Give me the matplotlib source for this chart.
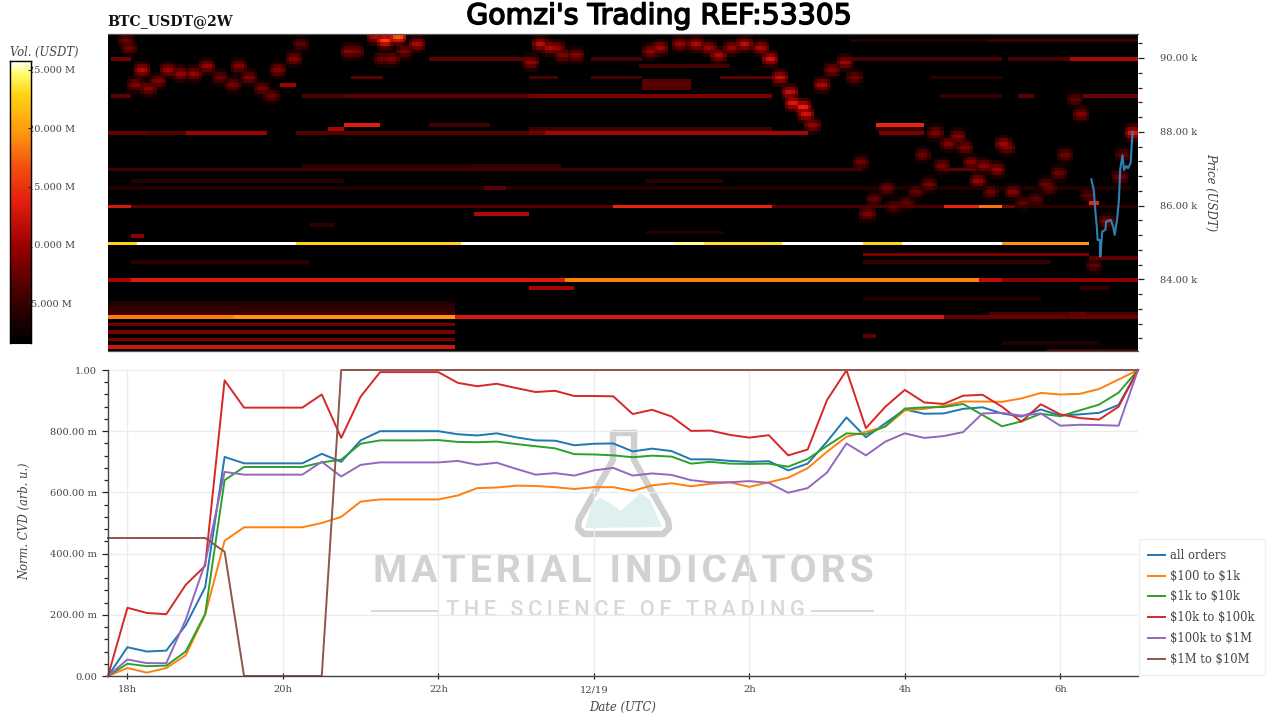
import numpy as np
import matplotlib
matplotlib.use("Agg")
import matplotlib.pyplot as plt
from matplotlib.colors import LinearSegmentedColormap
from matplotlib.lines import Line2D
from matplotlib.patches import Polygon
from matplotlib.ticker import FixedLocator, NullLocator
import matplotlib.patheffects as pe

plt.rcParams["text.parse_math"] = False

# ---------- CVD data (15 minute samples, hours since 12/18 0h) ----------
CVD_START = 17.75
CVD_STEP = 0.25
ALL_ORDERS = [0, .094, .08, .083, .166, .29, .716, .695, .695, .695, .695, .726, .70, .77, .80, .80, .80,
              .80, .79, .786, .793, .78, .77, .769, .754, .759, .76, .734, .743, .735, .708, .708, .703, .70, .702,
              .672, .694, .766, .845, .78, .826, .871, .857, .858, .873, .878, .858, .848, .871, .851, .855, .86, .886, 1.0]
USD_100_1K = [0, .026, .011, .026, .068, .20, .442, .486, .486, .486, .486, .50, .52, .57, .577, .577, .577,
              .577, .59, .614, .616, .622, .621, .617, .611, .617, .617, .605, .623, .63, .62, .628, .633, .618, .633,
              .648, .679, .733, .782, .798, .815, .868, .873, .883, .897, .897, .896, .907, .925, .92, .922, .938, .969, 1.0]
USD_1K_10K = [0, .04, .032, .034, .08, .203, .64, .683, .683, .683, .683, .698, .707, .759, .77, .77, .77,
              .771, .765, .764, .766, .758, .751, .744, .725, .724, .721, .715, .72, .717, .694, .70, .694, .693, .694,
              .684, .709, .752, .793, .79, .816, .874, .878, .879, .889, .853, .816, .832, .857, .849, .868, .887, .926, 1.0]
USD_10K_100K = [0, .223, .206, .202, .298, .36, .966, .877, .877, .877, .877, .92, .778, .913, .993, .993, .993,
                .993, .958, .947, .955, .941, .928, .932, .915, .915, .914, .856, .87, .848, .801, .802, .788, .779, .787,
                .721, .74, .902, .999, .81, .88, .935, .894, .889, .916, .919, .88, .831, .888, .855, .843, .838, .88, 1.0]
USD_100K_1M = [0, .054, .042, .042, .184, .369, .667, .658, .658, .658, .658, .70, .652, .69, .698, .698, .698,
               .698, .703, .69, .697, .677, .658, .663, .655, .672, .68, .655, .662, .657, .64, .633, .633, .637, .631,
               .599, .614, .665, .76, .721, .766, .793, .778, .784, .797, .858, .86, .851, .858, .818, .821, .82, .818, 1.0]
USD_1M_10M = [.451, .451, .451, .451, .451, .451, .406, 0, 0, 0, 0, 0] + [1.0] * 42

SERIES_NAMES = ["all orders", "$100 to $1k", "$1k to $10k", "$10k to $100k", "$100k to $1M", "$1M to $10M"]
SERIES_COLORS = ["#1f77b4", "#ff7f0e", "#2ca02c", "#d62728", "#9467bd", "#8c564b"]

# ---------- Tick labels ----------
X_TICKS = [18, 20, 22, 24, 26, 28, 30]
X_LABELS = ["18h", "20h", "22h", "12/19", "2h", "4h", "6h"]
CVD_TICKS = [0, .2, .4, .6, .8, 1.0]
CVD_LABELS = ["0.00", "200.00 m", "400.00 m", "600.00 m", "800.00 m", "1.00"]
PRICE_TICKS = [84000, 86000, 88000, 90000]
PRICE_LABELS = ["84.00 k", "86.00 k", "88.00 k", "90.00 k"]
VOL_TICKS = [5, 10, 15, 20, 25]
VOL_LABELS = ["5.000 M", "10.000 M", "15.000 M", "20.000 M", "25.000 M"]

# ---------- Price line ----------
PRICE_HOURS = [30.40, 30.43, 30.45, 30.47, 30.48, 30.51, 30.515, 30.54, 30.58, 30.59, 30.65, 30.68, 30.70,
               30.73, 30.755, 30.77, 30.80, 30.82, 30.85, 30.87, 30.905, 30.93]
PRICE_USD = [86714, 86425, 85883, 85432, 85070, 85070, 84619, 85296, 85341, 85567, 85612, 85432, 85206,
             85612, 86154, 86967, 87356, 86967, 87076, 87012, 87148, 88006]

# ---------- Order book walls: (start hour, end hour, volume in M) ----------
WALLS_85000 = [(17.75, 18.13, 23), (18.13, 20.17, 27), (20.17, 22.28, 23), (22.28, 25.04, 27), (25.04, 25.43, 25),
               (25.43, 26.43, 23.5), (26.43, 27.47, 27), (27.47, 27.94, 23), (27.94, 29.26, 27), (29.26, 30.38, 19.5)]
WALLS_84000 = [(17.75, 18.06, 10.5), (18.06, 23.62, 13.2), (23.62, 28.96, 18.7), (28.96, 29.26, 11.5),
               (29.26, 29.74, 9), (29.74, 31, 9.5)]
WALLS_83000 = [(17.75, 19.39, 18.5), (19.39, 22.22, 19.5), (22.22, 28.49, 13), (28.49, 29.35, 7.5), (29.35, 31, 7.5)]
WALLS_86000 = [(17.75, 18.06, 13), (18.06, 24.25, 6.5), (24.25, 26.29, 14), (26.29, 28.49, 6.2), (28.49, 28.96, 14),
               (28.96, 29.26, 18), (29.26, 29.43, 8), (29.43, 31, 4.5)]
WALLS_88000 = [(17.75, 18.23, 7.5), (18.23, 18.76, 6.5), (18.76, 19.79, 10), (20.17, 21.89, 6.5), (21.89, 23.15, 6.5),
               (23.15, 23.37, 8), (23.37, 26.75, 10.5), (27.68, 28.24, 8.5)]
WALLS_90000 = [(17.78, 18.05, 8), (21.89, 23.15, 7), (23.95, 24.63, 6), (27.29, 29.26, 6), (29.35, 30.12, 6),
               (30.12, 31, 11)]
WALLS_89000 = [(17.78, 18.04, 7), (20.26, 20.80, 6), (20.80, 21.89, 7), (21.89, 23.15, 7), (23.15, 26.30, 8.5),
               (28.45, 29.26, 5), (29.44, 29.65, 7), (30.29, 30.98, 8)]
LEFT_BLOCK_PRICES = [82800, 82600, 82400, 82200, 83100, 83200, 83300, 83400]
LEFT_BLOCK_VOLS = [8, 8.5, 8.5, 12.5, 5.5, 5, 4.2, 3.5]
LEFT_BLOCK_END = 22.22

# Single short or faint levels
SHORT_PRICES = [88200, 88100, 85800, 83800, 86100, 85200, 84700, 84500, 84600, 89300, 89500, 89500, 89500, 89500,
                89800, 89400, 89300, 89200, 87100, 87100, 87000, 86700, 86700, 86500, 86500, 88100, 88200, 88100,
                90500, 90500, 84500, 83100, 83100, 82500, 82100, 85300, 85500, 87000, 88200, 89500, 83500, 82300, 83800]
SHORT_START = [20.80, 20.58, 22.45, 23.15, 30.38, 18.06, 27.47, 27.47, 30.38, 19.94, 20.89, 23.15, 23.95, 25.62,
               24.57, 24.63, 24.63, 24.63, 20.26, 22.45, 17.75, 18.06, 24.66, 17.75, 22.60, 27.61, 21.89, 23.15,
               29.09, 27.29, 18.06, 29.09, 30.12, 27.47, 29.84, 24.66, 20.35, 28.51, 27.61, 28.32, 27.47, 29.26, 30.27]
SHORT_END = [21.26, 20.80, 23.15, 23.77, 30.51, 18.21, 30.38, 29.86, 31, 20.17, 21.28, 23.54, 24.63, 26.30,
             25.75, 25.26, 25.26, 25.26, 22.45, 23.57, 27.47, 20.80, 25.66, 30.9, 22.86, 28.24, 22.67, 26.30,
             31, 29.09, 20.35, 31, 30.35, 27.61, 31, 25.66, 20.67, 28.90, 28.24, 29.26, 29.74, 30.51, 30.63]
SHORT_VOLS = [13.5, 10.5, 11, 10.5, 14, 9.5, 8.5, 5, 7, 10, 7, 6, 6, 7,
              5.5, 6.5, 7, 6.5, 4.5, 5, 5.5, 4, 4.5, 3.8, 7, 5, 5.5, 5.5,
              5.5, 4, 4.5, 6, 7.5, 7, 6, 4, 4.5, 7, 14, 4.5, 3.8, 3.5, 5]

# ---------- Price-trace clusters of resting orders ----------
TRACE_HOURS = [17.94, 18.01, 18.17, 18.10, 18.26, 18.36, 18.51, 18.68, 18.84, 18.98, 19.16, 19.32, 19.43, 19.54,
               19.71, 19.84, 19.90, 20.13, 20.20, 20.83, 20.93, 21.16, 21.23, 21.29, 21.38, 21.47, 21.55, 21.70,
               23.18, 23.28, 23.40, 23.50, 23.59, 23.73, 24.70, 24.85, 25.07, 25.30, 25.46, 25.60, 25.75, 25.92,
               26.14, 26.25, 26.39, 26.48, 26.56, 26.65, 26.71, 26.80, 26.92, 27.04, 27.19, 27.34, 27.42, 27.50,
               27.59, 27.74, 27.85, 28.00, 28.13, 28.21, 28.28, 28.36, 28.44, 28.54, 28.67, 28.76, 28.84, 28.91,
               29.00, 29.07, 29.16, 29.25, 29.31, 29.39, 29.52, 29.67, 29.79, 29.85, 29.94, 30.06, 30.17, 30.25,
               30.34, 30.42, 30.57, 30.73, 30.80, 30.92]
TRACE_PRICES = [90500, 90300, 89700, 89300, 89200, 89400, 89700, 89600, 89600, 89800, 89500, 89300, 89800, 89500,
                89200, 89000, 89700, 90000, 90400, 90200, 90200, 90600, 90000, 90500, 90000, 90600, 90200, 90400,
                89900, 90400, 90300, 90300, 90100, 90100, 90200, 90300, 90400, 90400, 90300, 90100, 90300, 90400,
                90300, 90000, 89500, 89100, 88800, 88700, 88500, 88200, 89300, 89700, 89900, 89500, 87200, 85800,
                86200, 86500, 86000, 86100, 86400, 87400, 86600, 88000, 87100, 87700, 87900, 87600, 87200, 86700,
                87100, 86400, 87000, 87700, 87600, 86400, 86100, 86200, 86600, 86500, 86900, 87400, 88900, 88500,
                86300, 84400, 85600, 86800, 87400, 88000]
TRACE_VOLS = [8, 8, 11, 9, 9.5, 9, 10, 10, 10, 10, 8, 8.5, 9, 9, 8.5, 8, 9, 9, 7,
              9.5, 8.5, 11, 8, 16, 9, 17, 9, 11,
              10, 11.5, 11, 10, 9, 9, 10, 10.5, 10, 11, 10, 11, 10, 11.5,
              11, 12.5, 12, 12, 13, 14, 12.5, 10, 11, 9, 10.5, 8.5, 8, 9,
              7.5, 8, 7.5, 7.5, 7.5, 8, 8.5, 9, 8.5, 9, 9.5, 9, 9, 10,
              9.5, 8, 10, 10.5, 9, 9, 7, 7, 8, 7.5, 8, 8, 7.5, 9,
              7, 7.5, 9, 8, 7.5, 13]

# ---------- Build the heat grid ----------
COLS_PER_HOUR = 24
H_EDGES = np.arange(17.75, 31.0 + 1e-6, 1 / COLS_PER_HOUR)
P_EDGES = np.arange(82025, 90651, 100)
heat = np.zeros((len(P_EDGES) - 1, len(H_EDGES) - 1))


def col_of(h):
    return int(np.clip(np.round((h - H_EDGES[0]) * COLS_PER_HOUR), 0, heat.shape[1]))


def row_of(p):
    return int(np.clip(np.floor((p - P_EDGES[0]) / 100), 0, heat.shape[0] - 1))


def add_wall(price, start, end, vol):
    r = row_of(price)
    c0, c1 = col_of(start), max(col_of(end), col_of(start) + 1)
    heat[r, c0:c1] = np.maximum(heat[r, c0:c1], vol)


for price, segments in [(85000, WALLS_85000), (84000, WALLS_84000), (83000, WALLS_83000), (86000, WALLS_86000),
                        (88000, WALLS_88000), (90000, WALLS_90000), (89000, WALLS_89000)]:
    for s, e, v in segments:
        add_wall(price, s, e, v)
for p, v in zip(LEFT_BLOCK_PRICES, LEFT_BLOCK_VOLS):
    add_wall(p, 17.75, LEFT_BLOCK_END, v)
for p, s, e, v in zip(SHORT_PRICES, SHORT_START, SHORT_END, SHORT_VOLS):
    add_wall(p, s, e, v)
add_wall(87000, 28.51, 28.90, 7)
ROW_FALLOFF = [(0, 1.0), (1, .72), (-1, .72), (2, .38), (-2, .38)]
COL_FALLOFF = [(0, 1.0), (1, .95), (-1, .95), (2, .7), (-2, .7)]
for h, p, v in zip(TRACE_HOURS, TRACE_PRICES, TRACE_VOLS):
    r, c = row_of(p), min(col_of(h), heat.shape[1] - 1)
    for dr, fr in ROW_FALLOFF:
        for dc, fc in COL_FALLOFF:
            rr, cc = r + dr, c + dc
            if 0 <= rr < heat.shape[0] and 0 <= cc < heat.shape[1] and rr != row_of(85000):
                heat[rr, cc] = max(heat[rr, cc], v * fr * fc)

# ---------- Style ----------
GREY = "#444444"
plt.rcParams["font.family"] = ["DejaVu Serif"]
W, H = 1280, 720
HEAT_CMAP = LinearSegmentedColormap.from_list("book", [
    (0, "#000000"), (.092, "#220000"), (.21, "#550000"), (.34, "#990000"), (.506, "#e52010"), (.624, "#f25010"),
    (.742, "#ff9510"), (.884, "#ffd512"), (.96, "#ffff70"), (1, "#ffffff")])
VMIN, VMAX = 1.57, 25.77


def box(x0, y0, x1, y1):
    return [x0 / W, 1 - y1 / H, (x1 - x0) / W, (y1 - y0) / H]


def fx(x):
    return x / W


def fy(y):
    return 1 - y / H


fig = plt.figure(figsize=(12.8, 7.2), dpi=100, facecolor="white")

# ---------- Watermark ----------
flask_outline = [(634, 433), (613, 433), (613, 460), (579, 520), (578, 528), (584, 534), (663, 534), (669, 528),
                 (668, 520), (634, 460), (634, 433)]
flask_fill = [(585, 528), (592, 503), (600, 498), (608, 502), (621, 511), (633, 500), (640, 493), (650, 500),
              (662, 527)]
fig.add_artist(Polygon([(fx(x), fy(y)) for x, y in flask_fill], closed=True, transform=fig.transFigure,
                       facecolor="#dff0f0", edgecolor="none", zorder=-2))
fig.add_artist(Line2D([fx(x) for x, y in flask_outline], [fy(y) for x, y in flask_outline],
                      transform=fig.transFigure, color="#cfcfcf", lw=4.6, solid_joinstyle="round", zorder=-2))
wm = dict(transform=fig.transFigure, ha="center", va="center", zorder=-2, family="Roboto")
fig.text(fx(623), fy(571.5), "\u200a".join("MATERIAL INDICATORS"), color="#d2d2d2", fontsize=28.2, fontweight="bold", **wm)
fig.text(fx(625), fy(611), "\u2009".join("THE SCIENCE OF TRADING"), color="#d8d8d8", fontsize=15.7,
         fontweight="medium", **wm)
for xa, xb in [(372, 438), (812, 873)]:
    fig.add_artist(Line2D([fx(xa), fx(xb)], [fy(611), fy(611)], transform=fig.transFigure, color="#d8d8d8",
                          lw=1.4, zorder=-2))

# ---------- Heatmap ----------
ax_top = fig.add_axes(box(108, 34, 1138, 351))
ax_top.pcolormesh(H_EDGES, P_EDGES, heat, cmap=HEAT_CMAP, vmin=VMIN, vmax=VMAX, shading="flat", rasterized=True)
ax_top.plot(PRICE_HOURS, PRICE_USD, color="#2f7fb3", lw=1.5)
ax_top.set_xlim(17.75, 31)
ax_top.set_ylim(82060, 90650)
ax_top.xaxis.set_major_locator(NullLocator())
ax_top.yaxis.tick_right()
ax_top.set_yticks(PRICE_TICKS, PRICE_LABELS)
ax_top.yaxis.set_minor_locator(FixedLocator(np.arange(82400, 90601, 400)))
ax_top.tick_params(axis="y", which="major", length=4.2, width=0.9, color="#222222", pad=12, labelcolor=GREY,
                   labelsize=7.1)
ax_top.tick_params(axis="y", which="minor", length=2.6, width=0.9, color="#222222")
ax_top.yaxis.set_label_position("right")
ax_top.set_ylabel("Price (USDT)", rotation=270, style="italic", color=GREY, fontsize=8.4, va="center")
ax_top.yaxis.set_label_coords((1211 - 108) / 1030, 0.5)
for s in ["left", "right"]:
    ax_top.spines[s].set_visible(False)
for s in ["top", "bottom"]:
    ax_top.spines[s].set_color("#555555")
    ax_top.spines[s].set_linewidth(0.9)

# ---------- Colorbar ----------
ax_lab = fig.add_axes(box(10, 61, 31, 343), zorder=1)
ax_lab.set_ylim(VMIN, VMAX)
ax_lab.xaxis.set_major_locator(NullLocator())
ax_lab.yaxis.tick_right()
ax_lab.set_yticks(VOL_TICKS, VOL_LABELS, ha="center")
ax_lab.tick_params(axis="y", length=0, pad=14.5, labelsize=7.0, labelcolor=GREY)
cax = fig.add_axes(box(10, 61, 31, 343), zorder=2)
cax.imshow(np.linspace(VMIN, VMAX, 256)[:, None], origin="lower", aspect="auto", cmap=HEAT_CMAP, vmin=VMIN, vmax=VMAX,
           extent=[0, 1, VMIN, VMAX])
cax.xaxis.set_major_locator(NullLocator())
cax.yaxis.tick_right()
cax.set_yticks(VOL_TICKS, [""] * 5)
cax.tick_params(axis="y", direction="in", length=2.2, width=0.8, color="#222222")
for s, vis in [("bottom", False), ("top", True), ("left", True), ("right", True)]:
    cax.spines[s].set_visible(vis)
    cax.spines[s].set_linewidth(1.0)
cax.spines["left"].set_color("#000000")
fig.text(fx(10), fy(52), "Vol. (USDT)", style="italic", color=GREY, fontsize=8.3, ha="left", va="center")

# ---------- CVD ----------
ax = fig.add_axes(box(108, 370, 1138, 676))
ax.set_facecolor("none")
hours = CVD_START + CVD_STEP * np.arange(len(ALL_ORDERS))
for vals, name, col in zip([ALL_ORDERS, USD_100_1K, USD_1K_10K, USD_10K_100K, USD_100K_1M, USD_1M_10M],
                           SERIES_NAMES, SERIES_COLORS):
    ax.plot(hours, vals, color=col, lw=1.4, label=name, solid_joinstyle="round", clip_on=False)
ax.set_xlim(17.75, 31)
ax.set_ylim(0, 1)
ax.set_xticks(X_TICKS, X_LABELS)
ax.set_yticks(CVD_TICKS, CVD_LABELS)
ax.yaxis.set_minor_locator(FixedLocator(np.arange(0.04, 1.0, 0.04)))
ax.grid(True, which="major", color="#ececec", lw=1)
ax.set_axisbelow(True)
ax.tick_params(axis="y", which="major", length=4.5, width=0.9, color="#222222", labelcolor=GREY, labelsize=7.1)
ax.tick_params(axis="x", which="major", length=5, direction="inout", width=0.9, color="#222222", labelcolor=GREY,
               labelsize=7.1, pad=4)
ax.tick_params(axis="y", which="minor", length=3, width=0.9, color="#222222")
for s in ["top", "right"]:
    ax.spines[s].set_visible(False)
for s in ["left", "bottom"]:
    ax.spines[s].set_color("#444444")
    ax.spines[s].set_linewidth(1.0)
ax.set_xlabel("Date (UTC)", style="italic", color=GREY, fontsize=8.4, labelpad=5)
ax.set_ylabel("Norm. CVD (arb. u.)", style="italic", color=GREY, fontsize=8.3, va="center")
ax.yaxis.set_label_coords((25 - 108) / 1030, 0.506)
leg = ax.legend(loc="lower left", bbox_to_anchor=(1.0, 0.0), borderaxespad=0.05, frameon=True, fancybox=False,
                fontsize=8.3, labelcolor=GREY, handlelength=1.48, handletextpad=0.43, labelspacing=0.67, borderpad=0.85)
leg.get_frame().set_edgecolor("#f0f0f0")
leg.get_frame().set_linewidth(1)
leg.get_frame().set_alpha(1)

# ---------- Titles ----------
fig.text(fx(107.5), fy(21), "BTC_USDT@2W", fontweight="bold", color="#111111", fontsize=10.2, ha="left", va="center")
t = fig.text(fx(659.5), fy(16), "Gomzi's Trading REF:53305", family="DejaVu Sans", color="black", fontsize=20.4,
             ha="center", va="center")
t.set_path_effects([pe.withStroke(linewidth=1.1, foreground="black")])

fig.savefig("out.png", dpi=100, facecolor="white")
